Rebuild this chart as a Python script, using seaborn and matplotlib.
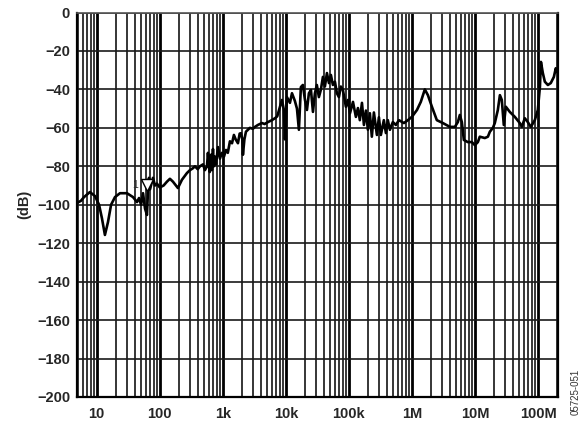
import matplotlib
matplotlib.use("Agg")
import matplotlib.pyplot as plt
from matplotlib.ticker import LogLocator, FixedLocator, FixedFormatter, NullFormatter
import numpy as np
import pandas as pd
import seaborn as sns

# Measured response: frequency (Hz) and level (dB)
freq_hz = [
    4.9, 5.6, 6.3, 7.8, 9.4, 10.9, 12.1, 13.5, 15.1, 16.9, 19.5, 23.4, 30.2,
    37.6, 43.6, 46.9, 50.5, 54.3, 58.4, 62.7, 65, 67.5, 70, 72.6, 78.1, 84,
    90.3, 100, 115, 130, 145, 162, 194, 225, 270, 301, 336, 361, 400, 434,
    485, 520, 561, 581, 600, 620, 649, 672, 698, 720, 750, 780, 838, 900,
    968, 1042, 1122, 1200, 1297, 1400, 1500, 1600, 1738, 1850, 1940, 2040,
    2084, 2200, 2328, 2500, 2692, 3000, 3234, 3600, 4169, 4600, 5200, 6000,
    6710, 7300, 8054, 8660, 9310, 9670, 10400, 11600, 12500, 13900, 15000,
    16100, 17300, 18600, 20100, 21600, 23200, 25000, 26900, 28900, 31000,
    33400, 36000, 38700, 41600, 44800, 48200, 51800, 55700, 60000, 64500,
    69400, 74500, 80300, 89500, 96400, 104e3, 116e3, 129e3, 139e3, 149e3,
    161e3, 173e3, 186e3, 200e3, 215e3, 231e3, 249e3, 278e3, 299e3, 321e3,
    358e3, 386e3, 414e3, 447e3, 497e3, 556e3, 621e3, 745e3, 861e3, 996e3,
    1.20e6, 1.38e6, 1.60e6, 1.79e6, 2.07e6, 2.48e6, 3.09e6, 3.99e6, 4.79e6,
    5.34e6, 5.74e6, 6.18e6, 6.65e6, 7.69e6, 8.91e6, 9.94e6, 11.1e6, 11.9e6,
    14.3e6, 16.0e6, 17.2e6, 19.2e6, 20.6e6, 23.0e6, 24.8e6, 26.6e6, 28.6e6,
    30.8e6, 35.6e6, 42.8e6, 51.3e6, 55.2e6, 61.6e6, 68.7e6, 76.7e6, 88.7e6,
    99.1e6, 107e6, 111e6, 119e6, 128e6, 143e6, 159e6, 178e6, 191e6, 200e6,
]
level_db = [
    -99, -98, -96, -93.4, -95.5, -100, -107, -115.7, -109, -100, -96, -94, -94,
    -96, -98.6, -96.5, -100, -94, -102, -105.3, -93, -86, -92, -90, -86, -90,
    -89, -91, -90, -88, -86.5, -88, -91.3, -87, -83.5, -82, -81, -80, -81.5, -80,
    -79, -82, -80, -73, -79, -83, -74, -82, -71, -80, -75, -79, -70, -76,
    -73, -75, -71.5, -73, -67, -68, -63.7, -66, -68, -63, -62.8, -66,
    -74, -66, -62, -61, -60, -60.5, -59.5, -58.5, -57.5, -58, -57, -56,
    -55, -54, -49, -45.5, -50.7, -66, -44, -47, -42, -46, -50,
    -61, -38.8, -37.7, -45.5, -50.7, -42, -40.3, -51.7, -42, -37.7,
    -44, -40, -33.5, -38.5, -31.5, -36.7, -32.5, -37.7, -36, -42,
    -44, -38.5, -40.3, -49, -45.5, -52.4, -46.5, -54.3, -49.7, -56,
    -47, -58.5, -51, -61, -52.4, -64.6, -52, -63.7, -54.5, -63.7,
    -56, -62.7, -56, -61, -57, -58.5, -56, -57.5, -56, -54.3,
    -50.7, -46.5, -40, -43, -49, -56, -57.5, -59.5, -59.5,
    -57, -53.3, -57, -66.3, -67.4, -67.4, -69, -67.4, -64.6,
    -65.3, -64.6, -62, -60, -57.5, -50.7, -43, -45.5, -58.5,
    -49, -51.7, -54.3, -57.5, -59.5, -55, -57, -59.5, -56,
    -50.7, -38.6, -25.7, -31.5, -36, -37.7, -36.7, -33.5, -29, -31,
]

# Marker 1
marker_hz = 62.0
marker_db = -89.5
marker_label = "1"

# Axis ticks
x_tick_values = [10, 100, 1e3, 1e4, 1e5, 1e6, 1e7, 1e8]
x_tick_labels = ["10", "100", "1k", "10k", "100k", "1M", "10M", "100M"]
y_tick_values = list(range(0, -201, -20))
x_limits = (4.87, 2.07e8)
y_limits = (-200, 0)

df = pd.DataFrame({"freq": freq_hz, "level": level_db})

sns.set_style("white")
plt.rcParams["font.family"] = ["Liberation Sans", "DejaVu Sans"]
plt.rcParams["axes.unicode_minus"] = True

fig = plt.figure(figsize=(5.84, 4.25), dpi=100)
ax = fig.add_axes([77 / 584, 1 - 397 / 425, (558 - 77) / 584, (397 - 12.5) / 425])

sns.lineplot(data=df, x="freq", y="level", ax=ax, color="black",
             linewidth=1.9, estimator=None, sort=False, zorder=5)

ax.plot([marker_hz], [marker_db], marker="v", markersize=8,
        markerfacecolor="white", markeredgecolor="black",
        markeredgewidth=1.0, linestyle="none", zorder=6)
ax.annotate(marker_label, xy=(marker_hz, marker_db), xytext=(-6, 0),
            textcoords="offset points", ha="right", va="center",
            fontsize=7.5, zorder=7)

ax.set_xscale("log")
ax.set_xlim(*x_limits)
ax.set_ylim(*y_limits)

ax.xaxis.set_major_locator(FixedLocator(x_tick_values))
ax.xaxis.set_major_formatter(FixedFormatter(x_tick_labels))
ax.xaxis.set_minor_locator(LogLocator(base=10, subs=np.arange(2, 10), numticks=30))
ax.xaxis.set_minor_formatter(NullFormatter())
ax.set_yticks(y_tick_values)
ax.set_yticklabels([f"{v}".replace("-", "\u2212") for v in y_tick_values])

ax.grid(which="major", axis="x", color="black", linewidth=2.0)
ax.grid(which="minor", axis="x", color="black", linewidth=1.1)
ax.grid(which="major", axis="y", color="#1a1a1a", linewidth=1.2)
ax.set_axisbelow(True)

ax.tick_params(axis="both", which="both", length=0)
ax.tick_params(axis="x", pad=7, labelsize=10.5)
ax.tick_params(axis="y", pad=5, labelsize=10.5)
for lab in ax.get_xticklabels() + ax.get_yticklabels():
    lab.set_fontweight("bold")

ax.set_xlabel("")
ax.set_ylabel("(dB)", fontsize=10.5, fontweight="bold", labelpad=4)

for side, sp in ax.spines.items():
    sp.set_visible(True)
    sp.set_color("black")
    sp.set_linewidth(1.6)
ax.spines["top"].set_color("#555555")
ax.spines["top"].set_linewidth(1.2)

fig.text(0.985, 0.078, "05725-051", rotation=90, ha="center", va="center",
         fontsize=7, color="#333333")

fig.savefig("out.png", dpi=100)
